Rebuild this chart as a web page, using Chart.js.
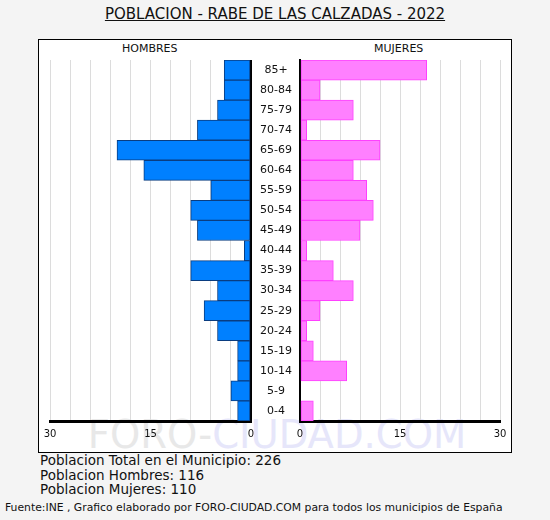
<!DOCTYPE html>
<html>
<head>
<meta charset="utf-8">
<script src="https://cdn.jsdelivr.net/npm/chart.js@4/dist/chart.umd.min.js"></script>
<style>
  body { margin:0; background:#f4f4f4; width:550px; height:520px; position:relative; overflow:hidden; font-family:"DejaVu Sans", Verdana, sans-serif; }
  #titulo { position:absolute; left:0; width:550px; top:5px; text-align:center; font-size:15px; color:#111; text-decoration:underline; }
  #marco { position:absolute; left:38px; top:39px; width:472px; height:412px; background:#fff; border:1px solid #000; }
  .lado { position:absolute; top:42px; font-size:11px; color:#111; }
  #marca { position:absolute; left:0; width:554px; text-align:center; top:412px; font-size:38.5px; }
  .caja { position:absolute; top:50px; height:400px; }
  #resumen { position:absolute; left:40px; top:453px; font-size:13.5px; line-height:14.5px; color:#111; }
  #fuente { position:absolute; left:5px; top:501px; font-size:10.8px; color:#111; }
</style>
</head>
<body>
<div id="titulo">POBLACION - RABE DE LAS CALZADAS - 2022</div>
<div id="marco"></div>
<div class="lado" style="left:122px">HOMBRES</div>
<div class="lado" style="left:374px">MUJERES</div>
<div id="marca"><span style="color:#e8e8e8">FORO-</span><span style="color:#e6e6fa">CIUDAD.COM</span></div>
<div class="caja" style="left:40px;width:215px"><canvas id="hombres"></canvas></div>
<div class="caja" style="left:249px;width:261px"><canvas id="mujeres"></canvas></div>
<div id="resumen">Poblacion Total en el Municipio: 226<br>Poblacion Hombres: 116<br>Poblacion Mujeres: 110</div>
<div id="fuente">Fuente:INE , Grafico elaborado por FORO-CIUDAD.COM para todos los municipios de España</div>
<script>
const edades = ["85+","80-84","75-79","70-74","65-69","60-64","55-59","50-54","45-49","40-44","35-39","30-34","25-29","20-24","15-19","10-14","5-9","0-4"];
const hombres = [4,4,5,8,20,16,6,9,8,1,9,5,7,5,2,2,3,2];
const mujeres = [19,3,8,1,12,8,10,11,9,1,5,8,3,1,2,7,0,2];
const marcas = [0,15,30];

Chart.defaults.font.family = "'DejaVu Sans', Verdana, sans-serif";
Chart.defaults.color = "#111";

// quita el relleno automatico que Chart.js mete por las etiquetas
function sinRelleno(s) {
    s.paddingLeft = 0;
    s.paddingRight = 0;
    s.paddingTop = 0;
    s.paddingBottom = 0;
}

function ejeX(reverso) {
    return {
        reverse: reverso,
        min: 0,
        max: 30,
        ticks: {
            stepSize: 3,
            autoSkip: false,
            maxRotation: 0,
            padding: 7,
            font: { size: 10 },
            callback: (v) => marcas.includes(v) ? String(v) : ""
        },
        grid: {
            drawTicks: false,
            color: (c) => c.tick && c.tick.value === 0 ? "#000" : "#dcdcdc",
            lineWidth: (c) => c.tick && c.tick.value === 0 ? 2 : 1
        },
        border: { color: "#000", width: 3 },
        afterFit: (s) => { s.height = 29; sinRelleno(s); }
    };
}

new Chart(document.getElementById("hombres"), {
    type: "bar",
    data: {
        labels: edades,
        datasets: [{
            data: hombres,
            backgroundColor: "#0080ff",
            borderColor: "#0a3d80",
            borderWidth: 1,
            borderSkipped: false,
            barPercentage: 1,
            categoryPercentage: 1
        }]
    },
    options: {
        indexAxis: "y",
        responsive: true,
        maintainAspectRatio: false,
        animation: false,
        layout: { padding: { left: 10, right: 4, top: 10 } },
        plugins: { legend: { display: false }, tooltip: { enabled: false } },
        scales: {
            x: ejeX(true),
            y: { display: false }
        }
    }
});

new Chart(document.getElementById("mujeres"), {
    type: "bar",
    data: {
        labels: edades,
        datasets: [{
            data: mujeres,
            backgroundColor: "#ff80ff",
            borderColor: "#ff40ff",
            borderWidth: 1,
            borderSkipped: false,
            barPercentage: 1,
            categoryPercentage: 1
        }]
    },
    options: {
        indexAxis: "y",
        responsive: true,
        maintainAspectRatio: false,
        animation: false,
        layout: { padding: { right: 10, top: 10 } },
        plugins: { legend: { display: false }, tooltip: { enabled: false } },
        scales: {
            x: ejeX(false),
            y: {
                position: "left",
                grid: { display: false, drawTicks: false },
                border: { color: "#000", width: 2 },
                ticks: { crossAlign: "center", padding: 8, font: { size: 11 } },
                afterFit: (s) => { s.width = 51; sinRelleno(s); }
            }
        }
    }
});
</script>
</body>
</html>
